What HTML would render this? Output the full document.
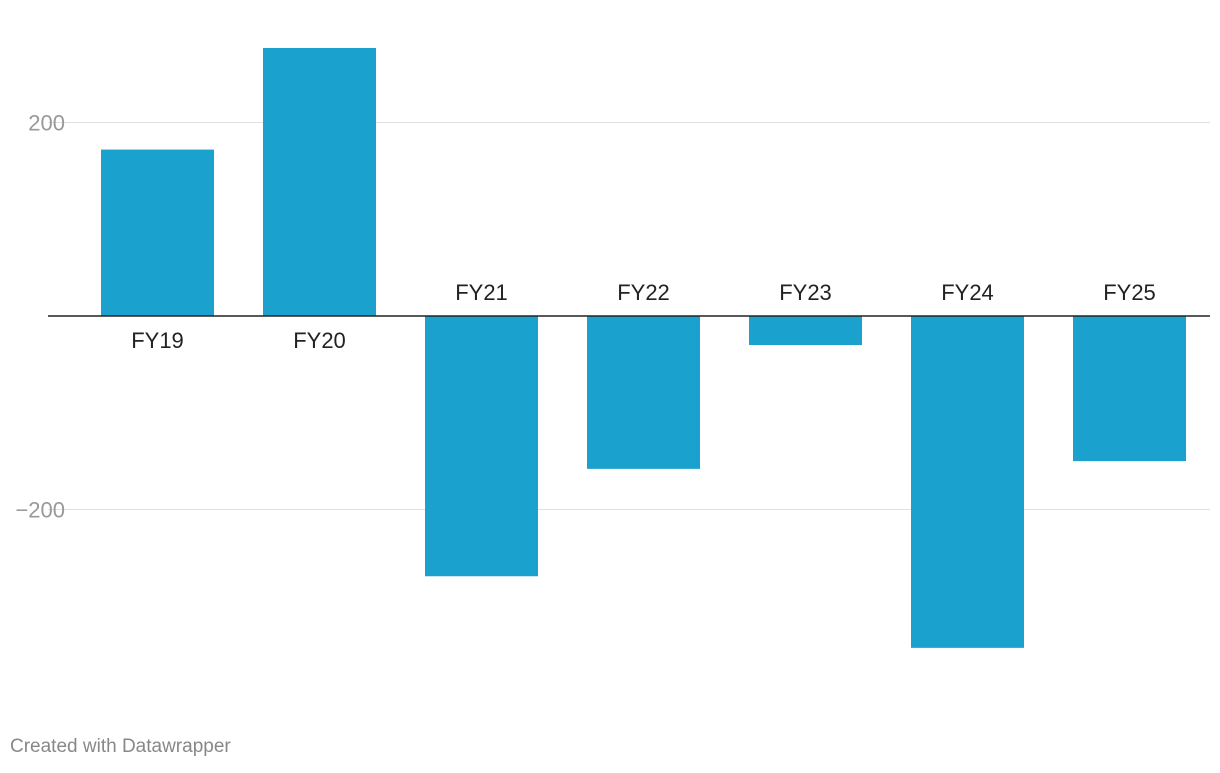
<!DOCTYPE html>
<html><head><meta charset="utf-8"><style>
body{margin:0;background:#fff;width:1220px;height:768px;overflow:hidden;font-family:"Liberation Sans",sans-serif}
</style></head><body>
<svg width="1220" height="768" id="chart">
<text x="10" y="752" font-size="19" fill="#888">Created with Datawrapper</text>
</svg>
<script>
const categories=["FY19","FY20","FY21","FY22","FY23","FY24","FY25"];
const values=[172,277,-269,-158,-30,-343,-150];
const tickValues=[200,-200];
const tickLabels=["200","−200"];
const svg=document.getElementById('chart');
const NS='http://www.w3.org/2000/svg';
const y0=316, scale=193.5/200;
const y=v=>y0-v*scale;
const x=i=>101+i*162;
const bw=113;
function mk(t,a){const e=document.createElementNS(NS,t);for(const k in a)e.setAttribute(k,a[k]);svg.appendChild(e);return e;}
tickValues.forEach((v,i)=>{
 const l=mk('line',{x1:48,x2:1210,y1:y(v),y2:y(v),stroke:'#e0e0e0','stroke-width':1});
 
 
 const t=mk('text',{x:65,y:y(v)+8,'font-size':22,fill:'#999','text-anchor':'end'});
 t.textContent=tickLabels[i];
 
 
});
values.forEach((v,i)=>{
 const top=Math.min(y(v),y0),h=Math.abs(y(v)-y0);
 const r=mk('rect',{x:x(i),y:top,width:bw,height:h,fill:'#1aa1cd'});
 
 
 const t=mk('text',{x:x(i)+bw/2,y:v>=0?y0+32:y0-16,'font-size':22,fill:'#222','text-anchor':'middle'});
 t.textContent=categories[i];
 
 
});
const ax=mk('line',{x1:48,x2:1210,y1:y0,y2:y0,stroke:'#222','stroke-width':1.5});


</script>
</body></html>
